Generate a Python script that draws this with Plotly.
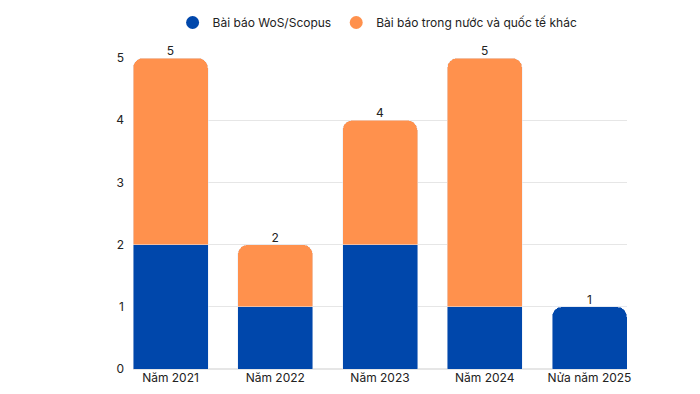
import plotly.graph_objects as go

categories = ["Năm 2021", "Năm 2022", "Năm 2023", "Năm 2024", "Nửa năm 2025"]
wos_scopus = [2, 1, 2, 1, 1]
domestic_other = [3, 1, 2, 4, 0]
y_ticks = [0, 1, 2, 3, 4, 5]

BLUE = "#0047AB"
ORANGE = "#FF914D"
FONT = "Inter, Roboto, sans-serif"
BARGAP = 0.284

totals = [a + b for a, b in zip(wos_scopus, domestic_other)]

fig = go.Figure()
fig.add_trace(go.Bar(x=categories, y=wos_scopus, marker_color=BLUE,
                     name="Bài báo WoS/Scopus", showlegend=False))
fig.add_trace(go.Bar(x=categories, y=domestic_other, marker_color=ORANGE,
                     name="Bài báo trong nước và quốc tế khác", showlegend=False))
fig.add_trace(go.Scatter(x=categories, y=totals, mode="text", text=[str(t) for t in totals],
                         textposition="top center", textfont=dict(size=12, color="#222"),
                         showlegend=False, hoverinfo="skip", cliponaxis=False))
fig.add_trace(go.Scatter(x=[None], y=[None], mode="markers",
                         marker=dict(color=BLUE, size=13, symbol="circle"),
                         name="Bài báo WoS/Scopus"))
fig.add_trace(go.Scatter(x=[None], y=[None], mode="markers",
                         marker=dict(color=ORANGE, size=13, symbol="circle"),
                         name="Bài báo trong nước và quốc tế khác"))

fig.update_layout(
    width=700, height=394,
    barmode="stack", bargap=BARGAP, barcornerradius=10,
    plot_bgcolor="white", paper_bgcolor="white",
    font=dict(family=FONT, size=12, color="#222"),
    margin=dict(l=125, r=81, t=50, b=33),
    legend=dict(orientation="h", x=0.528, xanchor="center", xref="container",
                y=1.0, yanchor="top", yref="container",
                font=dict(size=12), itemwidth=30, traceorder="normal"),
    xaxis=dict(showgrid=False, showline=False, ticks="", tickfont=dict(size=12),
               range=[-0.5 + BARGAP / 2, len(categories) - 0.5 - BARGAP / 2]),
    yaxis=dict(range=[0, 5], tickvals=y_ticks, showgrid=True, gridcolor="#e6e6e6",
               gridwidth=1, zeroline=True, zerolinecolor="#e6e6e6", ticks="",
               tickfont=dict(size=12), ticklabelstandoff=8),
)

fig.write_html("out.html")
